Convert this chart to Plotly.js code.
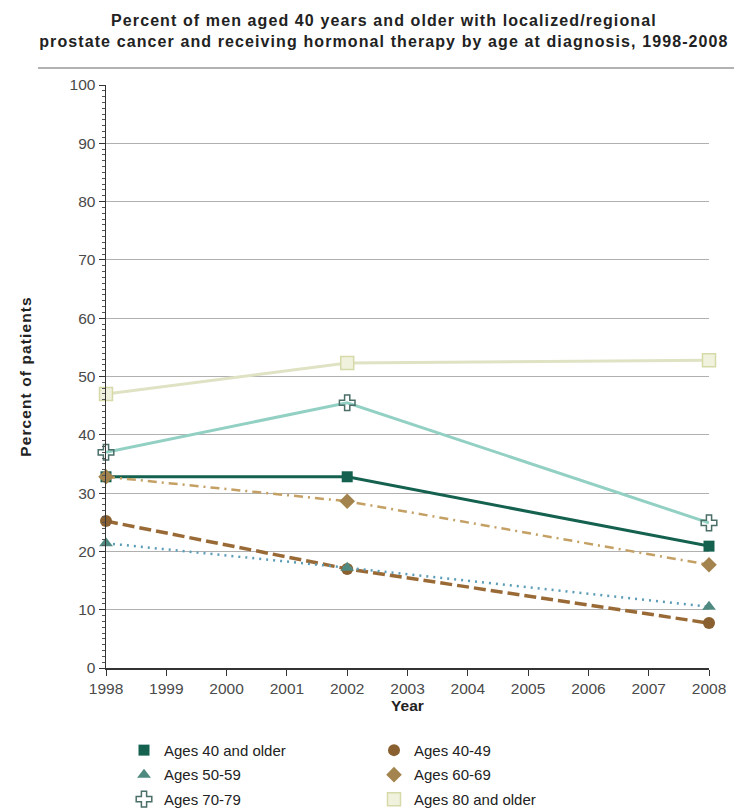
<!DOCTYPE html>
<html><head><meta charset="utf-8">
<script src="https://cdn.plot.ly/plotly-3.0.1.min.js"></script>
<style>body{margin:0;background:#fff}#c{width:734px;height:809px}
#c .gtitle{letter-spacing:1.1px}
#c .ytitle{letter-spacing:1.1px}
</style>
</head><body><div id="c"></div>
<script>
const years = [1998, 2002, 2008];
const seriesNames = ["Ages 40 and older","Ages 40-49","Ages 50-59","Ages 60-69","Ages 70-79","Ages 80 and older"];
const ages40plus = [32.8, 32.8, 20.9];
const ages40to49 = [25.2, 17.0, 7.7];
const ages50to59 = [21.4, 17.2, 10.5];
const ages60to69 = [32.8, 28.6, 17.7];
const ages70to79 = [37.0, 45.5, 24.9];
const ages80plus = [47.0, 52.3, 52.8];
const xTicks = [1998,1999,2000,2001,2002,2003,2004,2005,2006,2007,2008];

const styles = [
  {line:{color:'#15614f', width:3}, marker:{symbol:'square', size:11, color:'#15614f'}},
  {line:{color:'#9a6a36', width:3.5, dash:'12px,5px'}, marker:{symbol:'circle', size:12, color:'#8a6030'}},
  {line:{color:'#5b9cb8', width:2.5, dash:'2px,5px'}, marker:{symbol:'triangle-up', size:12, color:'#4f8a80'}},
  {line:{color:'#c4a064', width:2.5, dash:'9px,5px,2px,5px'}, marker:{symbol:'diamond', size:12, color:'#a4844e'}},
  {line:{color:'#93d0c4', width:3}, marker:{symbol:'cross-open', size:13, color:'#4a6e68', line:{width:1.5}}},
  {line:{color:'#e0e2c4', width:3}, marker:{symbol:'square', size:13, color:'#f1f2de', line:{color:'#d6daa8', width:1.5}}}
];
const values = [ages40plus, ages40to49, ages50to59, ages60to69, ages70to79, ages80plus];
const legendOf = ['legend','legend2','legend','legend2','legend','legend2'];

const data = [];
values.forEach((v,i)=>{
  data.push({x:years, y:v, name:seriesNames[i], type:'scatter', mode:'lines+markers',
    line:styles[i].line, marker:styles[i].marker, cliponaxis:false, showlegend:false});
});
// legend entries (marker only, as in the reference)
values.forEach((v,i)=>{
  data.push({x:[null], y:[null], name:seriesNames[i], type:'scatter', mode:'markers',
    marker:styles[i].marker, legend:legendOf[i], legendgroup:'g'+i, showlegend:true});
});

const layout = {
  width:734, height:809, paper_bgcolor:'#fff', plot_bgcolor:'#fff',
  margin:{l:106, r:25, t:85, b:141, autoexpand:false},
  font:{family:'Liberation Sans, Arial, sans-serif', size:15, color:'#333'},
  title:{text:'<b>Percent of men aged 40 years and older with localized/regional<br>prostate cancer and receiving hormonal therapy by age at diagnosis, 1998-2008</b>',
    x:0.523, xanchor:'center', y:0.968, yanchor:'top', yref:'container', font:{size:16, color:'#222'}},
  xaxis:{range:[1998,2008], tickvals:xTicks, ticktext:xTicks.map(String), showgrid:false, zeroline:false,
    showline:true, linecolor:'#333', linewidth:1.5, ticks:'outside', ticklen:6, tickcolor:'#333',
    tickfont:{size:15.5, color:'#4a4a4a'},
    title:{text:'<b>Year</b>', font:{size:15.5, color:'#222'}, standoff:2}},
  yaxis:{range:[0,100], dtick:10, showgrid:true, gridcolor:'#b0b0b0', gridwidth:1, zeroline:false,
    showline:true, linecolor:'#333', linewidth:1.5, ticks:'outside', ticklen:6, tickcolor:'#333',
    minor:{ticks:'outside', dtick:1, ticklen:3, tickcolor:'#555', showgrid:false},
    tickfont:{size:15.5, color:'#4a4a4a'},
    title:{text:'<b>Percent of patients</b>', font:{size:15.5, color:'#222'}, standoff:34}},
  showlegend:true,
  legend:{x:(124-106)/603, xanchor:'left', y:-0.113, yanchor:'top', orientation:'v', tracegroupgap:2,
    font:{size:15, color:'#222'}, bgcolor:'rgba(0,0,0,0)', itemwidth:30},
  legend2:{x:(374-106)/603, xanchor:'left', y:-0.113, yanchor:'top', orientation:'v', tracegroupgap:2,
    font:{size:15, color:'#222'}, bgcolor:'rgba(0,0,0,0)', itemwidth:30},
  shapes:[{type:'line', xref:'paper', yref:'paper', x0:(38-106)/603, x1:(734-106)/603, y0:(668-68)/583, y1:(668-68)/583,
    line:{color:'#999', width:1.5}}]
};
Plotly.newPlot('c', data, layout, {displayModeBar:false, staticPlot:true});
</script></body></html>
